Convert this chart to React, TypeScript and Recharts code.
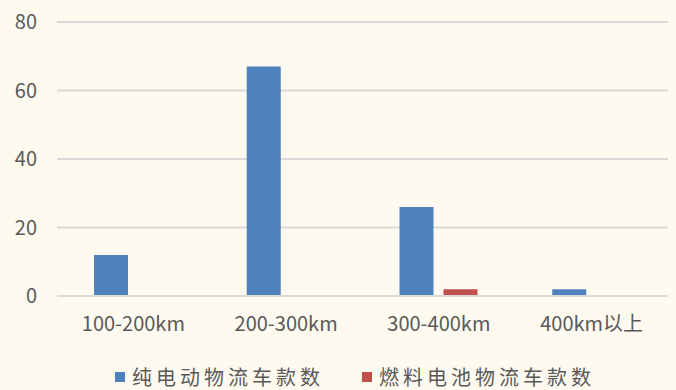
import { Bar, BarChart, CartesianGrid, XAxis, YAxis } from "recharts";

const categories = ["100-200km", "200-300km", "300-400km", "400km以上"];
const bevCounts = [12, 67, 26, 2];
const fcevCounts = [0, 0, 2, 0];
const yTicks = [0, 20, 40, 60, 80];

const BLUE = "#4F81BD";
const RED = "#C0504D";
const BG = "#FEFAF0";
const TEXT = "#595959";
const GRID = "#D9D9D9";
const FONT = "'Noto Sans CJK SC', 'Noto Sans', sans-serif";

const data = categories.map((c, i) => ({ name: c, bev: bevCounts[i], fcev: fcevCounts[i] }));

export default function App() {
  return (
    <div
      style={{
        position: "absolute",
        left: 0,
        top: 0,
        width: 676,
        height: 390,
        background: BG,
        fontFamily: FONT,
        overflow: "hidden",
      }}
    >
      <BarChart
        width={676}
        height={390}
        data={data}
        margin={{ top: 22, right: 8, left: 0, bottom: 44 }}
        barSize={34}
        barGap={10}
      >
        <CartesianGrid vertical={false} stroke={GRID} strokeWidth={2} />
        <XAxis
          dataKey="name"
          height={50}
          axisLine={{ stroke: GRID, strokeWidth: 2 }}
          tickLine={false}
          tickSize={0}
          tickMargin={21}
          tick={{ fill: TEXT, fontSize: 20, fontFamily: FONT }}
        />
        <YAxis
          width={57}
          domain={[0, 80]}
          ticks={yTicks}
          axisLine={false}
          tickLine={false}
          tickSize={0}
          tickMargin={20}
          tick={{ fill: TEXT, fontSize: 20, fontFamily: FONT }}
        />
        <Bar dataKey="bev" fill={BLUE} isAnimationActive={false} />
        <Bar dataKey="fcev" fill={RED} isAnimationActive={false} />
      </BarChart>
      <div
        style={{
          position: "absolute",
          top: 365,
          left: 115,
          display: "flex",
          gap: 38,
          fontSize: 20,
          letterSpacing: 4,
          color: TEXT,
          lineHeight: "24px",
          whiteSpace: "nowrap",
        }}
      >
        {[
          { label: "纯电动物流车款数", color: BLUE },
          { label: "燃料电池物流车款数", color: RED },
        ].map((item) => (
          <div key={item.label} style={{ display: "flex", alignItems: "center" }}>
            <span style={{ width: 10, height: 10, background: item.color, marginRight: 7 }} />
            <span>{item.label}</span>
          </div>
        ))}
      </div>
    </div>
  );
}
